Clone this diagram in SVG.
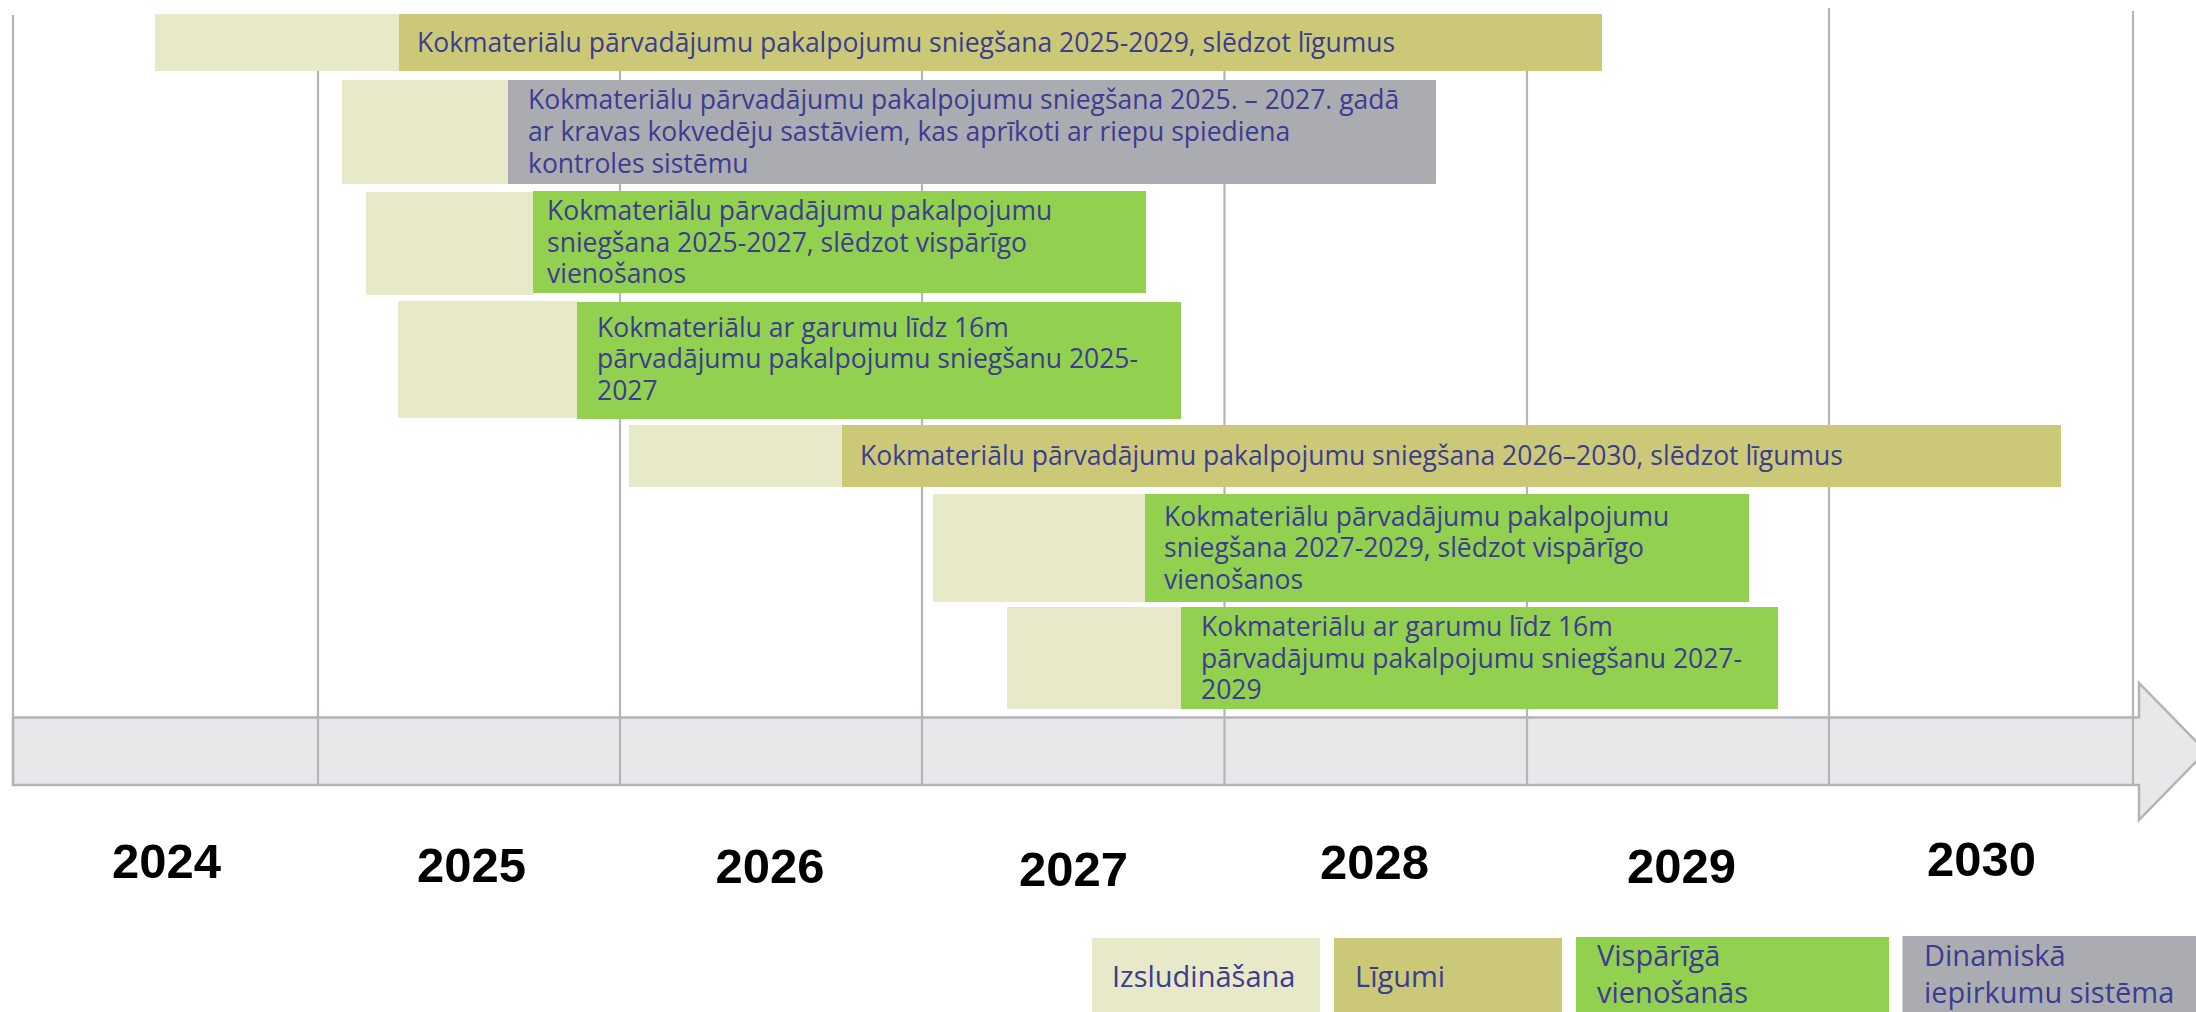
<svg xmlns="http://www.w3.org/2000/svg" width="2196" height="1012" viewBox="0 0 2196 1012">
<style>
.grid{stroke:#B4B4BB;stroke-width:2.2;fill:none}
.ann{fill:#E8E9C8}
.lig{fill:#CBC977}
.gen{fill:#92D050}
.dyn{fill:#ABACB1}
.t{font-family:"Open Sans","Noto Sans","DejaVu Sans",sans-serif;font-size:26.5px;fill:#3C3C90}
.lt{font-family:"Open Sans","Noto Sans","DejaVu Sans",sans-serif;font-size:29px;fill:#3C3C90}
.yr{font-family:"Liberation Sans",Arial,sans-serif;font-weight:bold;font-size:49px;fill:#000}
</style>
<rect width="2196" height="1012" fill="#FFFFFF"/>
<g id="axis">
<path d="M13,717.5 H2139 V683 L2206,751.5 L2139,820 V785 H13 Z" fill="#E8E8EA" stroke="#B2B2BA" stroke-width="2.5"/>
</g>
<g id="connectors">
<line class="grid" x1="13" y1="15" x2="13" y2="786" stroke-width="3"/>
<line class="grid" x1="318" y1="40" x2="318" y2="786"/>
<line class="grid" x1="620" y1="40" x2="620" y2="786"/>
<line class="grid" x1="922" y1="40" x2="922" y2="786"/>
<line class="grid" x1="1224.5" y1="40" x2="1224.5" y2="786"/>
<line class="grid" x1="1527" y1="40" x2="1527" y2="786"/>
<line class="grid" x1="1829" y1="8" x2="1829" y2="785"/>
<line class="grid" x1="2133" y1="11" x2="2133" y2="784"/>
</g>
<g id="row1">
<rect class="ann" x="155" y="14" width="245" height="57"/>
<rect class="lig" x="399" y="14" width="1203" height="57"/>
<text class="t" x="417" y="52">Kokmateriālu pārvadājumu pakalpojumu sniegšana 2025-2029, slēdzot līgumus</text>
</g>
<g id="row2">
<rect class="ann" x="342" y="80" width="167" height="104"/>
<rect class="dyn" x="508" y="80" width="928" height="104"/>
<text class="t" x="528" y="109">Kokmateriālu pārvadājumu pakalpojumu sniegšana 2025. – 2027. gadā</text>
<text class="t" x="528" y="141">ar kravas kokvedēju sastāviem, kas aprīkoti ar riepu spiediena</text>
<text class="t" x="528" y="172.5">kontroles sistēmu</text>
</g>
<g id="row3">
<rect class="ann" x="366" y="192" width="168" height="103"/>
<rect class="gen" x="533" y="191" width="613" height="102"/>
<text class="t" x="547" y="220">Kokmateriālu pārvadājumu pakalpojumu</text>
<text class="t" x="547" y="251.5">sniegšana 2025-2027, slēdzot vispārīgo</text>
<text class="t" x="547" y="283">vienošanos</text>
</g>
<g id="row4">
<rect class="ann" x="398" y="301" width="180" height="117"/>
<rect class="gen" x="577" y="302" width="604" height="117"/>
<text class="t" x="597" y="336.5">Kokmateriālu ar garumu līdz 16m</text>
<text class="t" x="597" y="368">pārvadājumu pakalpojumu sniegšanu 2025-</text>
<text class="t" x="597" y="400">2027</text>
</g>
<g id="row5">
<rect class="ann" x="629" y="425" width="214" height="62"/>
<rect class="lig" x="842" y="425" width="1219" height="62"/>
<text class="t" x="860" y="465">Kokmateriālu pārvadājumu pakalpojumu sniegšana 2026–2030, slēdzot līgumus</text>
</g>
<g id="row6">
<rect class="ann" x="933" y="494" width="213" height="108"/>
<rect class="gen" x="1145" y="494" width="604" height="108"/>
<text class="t" x="1164" y="526">Kokmateriālu pārvadājumu pakalpojumu</text>
<text class="t" x="1164" y="557">sniegšana 2027-2029, slēdzot vispārīgo</text>
<text class="t" x="1164" y="588.5">vienošanos</text>
</g>
<g id="row7">
<rect class="ann" x="1007" y="607" width="175" height="102"/>
<rect class="gen" x="1181" y="607" width="597" height="102"/>
<text class="t" x="1201" y="636">Kokmateriālu ar garumu līdz 16m</text>
<text class="t" x="1201" y="667.5">pārvadājumu pakalpojumu sniegšanu 2027-</text>
<text class="t" x="1201" y="698.5">2029</text>
</g>
<g id="years">
<text class="yr" x="112" y="878">2024</text>
<text class="yr" x="417" y="882">2025</text>
<text class="yr" x="715.5" y="883">2026</text>
<text class="yr" x="1019" y="886">2027</text>
<text class="yr" x="1320" y="879">2028</text>
<text class="yr" x="1627" y="883">2029</text>
<text class="yr" x="1927" y="876">2030</text>
</g>
<g id="legend-izsludinasana">
<rect class="ann" x="1092" y="938" width="228" height="80"/>
<text class="lt" x="1112" y="987">Izsludināšana</text>
</g>
<g id="legend-ligumi">
<rect class="lig" x="1334" y="938" width="228" height="80"/>
<text class="lt" x="1355" y="987">Līgumi</text>
</g>
<g id="legend-vienosanas">
<rect class="gen" x="1576" y="937" width="313" height="80"/>
<text class="lt" x="1597" y="966">Vispārīgā</text>
<text class="lt" x="1597" y="1003">vienošanās</text>
</g>
<g id="legend-dps">
<rect class="dyn" x="1902.5" y="936" width="300" height="80"/>
<text class="lt" x="1924" y="966">Dinamiskā</text>
<text class="lt" x="1924" y="1003">iepirkumu sistēma</text>
</g>
</svg>
